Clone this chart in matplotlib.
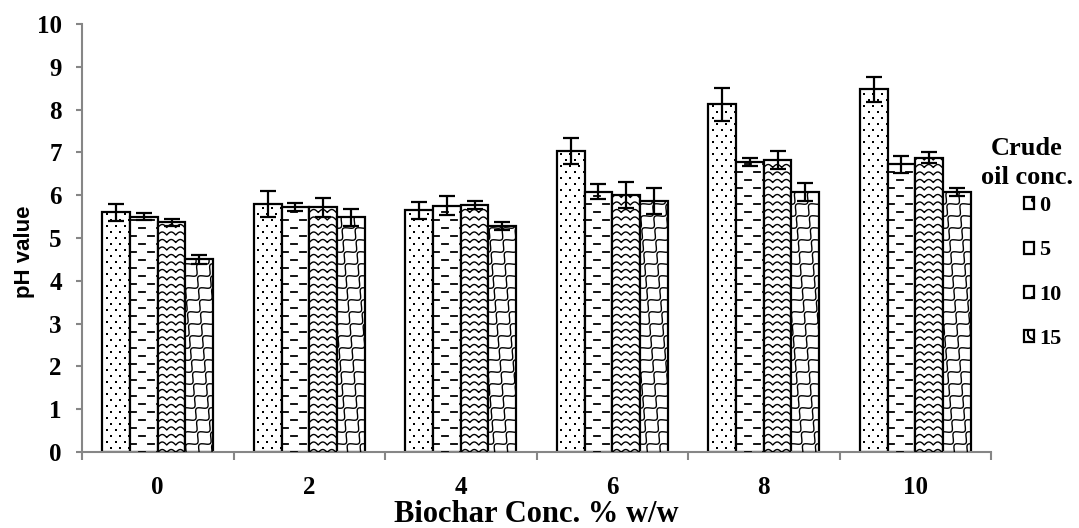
import numpy as np
from matplotlib import pyplot as plt
from matplotlib.patches import Patch
from matplotlib.transforms import IdentityTransform

# biochar dose (% w/w) on the x axis, one group of bars per dose
biochar = ["0", "2", "4", "6", "8", "10"]
crude_oil = ["0", "5", "10", "15"]

ph_oil0 = [5.60, 5.80, 5.65, 7.03, 8.12, 8.47]
ph_oil5 = [5.50, 5.72, 5.75, 6.08, 6.78, 6.72]
ph_oil10 = [5.37, 5.72, 5.77, 6.00, 6.82, 6.88]
ph_oil15 = [4.50, 5.48, 5.28, 5.86, 6.07, 6.07]

err_oil0 = [0.20, 0.30, 0.20, 0.30, 0.38, 0.30]
err_oil5 = [0.08, 0.10, 0.22, 0.18, 0.10, 0.20]
err_oil10 = [0.08, 0.22, 0.10, 0.30, 0.21, 0.12]
err_oil15 = [0.10, 0.20, 0.10, 0.30, 0.21, 0.09]

series = [ph_oil0, ph_oil5, ph_oil10, ph_oil15]
errors = [err_oil0, err_oil5, err_oil10, err_oil15]

SERIF = ["Liberation Serif", "DejaVu Serif"]
SANS = ["Liberation Sans", "DejaVu Sans"]
AXIS_GREY = "#868686"

plt.rcParams["font.family"] = SERIF
plt.rcParams["font.weight"] = "bold"
plt.rcParams["axes.labelweight"] = "bold"


# --- bar textures, generated in pixel space -------------------------------
def _dots(x0, x1, y0, y1):
    xs, ys = [], []
    for i, y in enumerate(np.arange(y0 - 8, y1 + 8, 6.0)):
        off = 0 if i % 2 == 0 else 4.5
        for x in np.arange(x0 - 9 + off, x1 + 9, 9.0):
            xs.append(x)
            ys.append(y)
    return [("pts", np.array(xs), np.array(ys))]


def _dashes(x0, x1, y0, y1):
    segs = []
    for i, y in enumerate(np.arange(y0 - 8, y1 + 8, 8.0)):
        off = 0 if i % 2 == 0 else 9
        for x in np.arange(x0 - 18 + off, x1 + 18, 18.0):
            segs.append(("line", np.array([x, x + 6]), np.array([y, y])))
    return segs


def _waves(x0, x1, y0, y1):
    segs = []
    xs = np.arange(x0 - 10, x1 + 10, 0.5)
    for y in np.arange(y0 - 8, y1 + 8, 7.5):
        segs.append(("line", xs, y + 3.0 * np.abs(np.sin(np.pi * (xs - x0) / 9.0))))
    return segs


def _shingles(x0, x1, y0, y1):
    segs = []
    s = np.arange(y0 - 30, y1 + 30, 0.5)
    wob = 3.5 * np.sin(2 * np.pi * s / 12.0) / np.sqrt(2)
    for c in np.arange(x0 - y1 - 30, x1 - y0 + 30, 13.0):
        segs.append(("line", c + s + wob, s - wob))
    return segs


fills = [_dots, _dashes, _waves, _shingles]

fig = plt.figure(figsize=(10.79, 5.28), dpi=100)
ax = fig.add_axes([82 / 1079, 1 - 452 / 528, (991 - 82) / 1079, (452 - 24) / 528])

x = np.arange(len(biochar))
width = 0.183
offsets = (np.arange(len(series)) - 1.5) * width

bar_sets = []
for k, (vals, errs) in enumerate(zip(series, errors)):
    bars = ax.bar(x + offsets[k], vals, width, color="white", edgecolor="black",
                  linewidth=1.6, zorder=2)
    ax.errorbar(x + offsets[k], vals, yerr=errs, fmt="none", ecolor="black",
                elinewidth=1.6, capsize=6, capthick=1.6, zorder=4)
    bar_sets.append(bars)

ax.set_xlim(-0.5, len(biochar) - 0.5)
ax.set_ylim(0, 10)
ax.set_yticks(np.arange(0, 11, 1))
ax.set_xticks(x)
ax.set_xticklabels(biochar)
ax.set_xticks(np.arange(-0.5, len(biochar), 1.0), minor=True)

for side in ("top", "right"):
    ax.spines[side].set_visible(False)
for side in ("left", "bottom"):
    ax.spines[side].set_color(AXIS_GREY)
    ax.spines[side].set_linewidth(1.5)

ax.tick_params(axis="x", which="major", length=0, pad=17, labelsize=18)
ax.tick_params(axis="x", which="minor", length=6, width=1.5, color=AXIS_GREY)
ax.tick_params(axis="y", length=4.5, width=1.5, color=AXIS_GREY, pad=10, labelsize=18)

ax.set_xlabel("Biochar Conc. % w/w", fontsize=22)
ax.xaxis.set_label_coords(0.5, -0.113)
ax.set_ylabel("pH value", fontfamily=SANS, fontsize=16)
ax.yaxis.set_label_coords(-0.052, 0.467)

# texture fills clipped to each bar
for bars, fill in zip(bar_sets, fills):
    for b in bars:
        (px0, py0), (px1, py1) = ax.transData.transform(
            [(b.get_x(), 0), (b.get_x() + b.get_width(), b.get_height())])
        for kind, xs, ys in fill(px0, px1, py0, py1):
            if kind == "pts":
                art, = ax.plot(xs, ys, ls="none", marker="s", ms=1.6, mew=0,
                               color="black", transform=IdentityTransform(), zorder=3)
            else:
                lw = 1.3 if fill is _dashes else 1.0
                art, = ax.plot(xs, ys, color="black", lw=lw,
                               transform=IdentityTransform(), zorder=3)
            art.set_clip_path(b)

# legend: centred two-line title, entries underneath
fig.text(1027 / 1079, 1 - 163 / 528, "Crude\noil conc.", ha="center", va="center",
         fontsize=19, linespacing=1.3)
handles = [Patch(facecolor="white", edgecolor="black", linewidth=1.6, hatch=h)
           for h in (".", "-", "o", "O")]
fig.legend(handles, crude_oil, frameon=False, loc="upper left",
           bbox_to_anchor=(1024 / 1079, 1 - 196 / 528),
           handlelength=0.45, handleheight=0.45, handletextpad=0.25,
           labelspacing=1.1, borderpad=0, borderaxespad=0,
           prop={"family": SERIF, "weight": "bold", "size": 16})

fig.savefig("out.png", dpi=100)
